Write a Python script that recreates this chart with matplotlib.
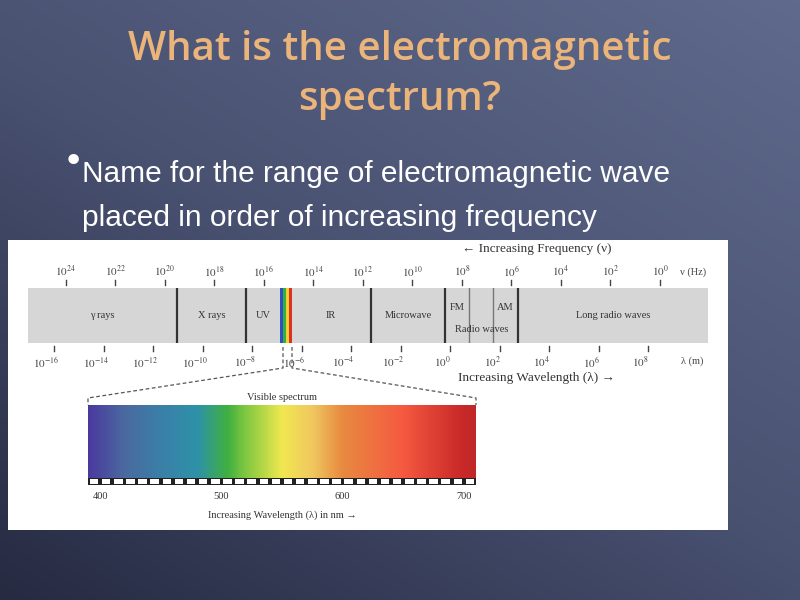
import numpy as np
import matplotlib
matplotlib.use("Agg")
import matplotlib.pyplot as plt
from matplotlib.colors import LinearSegmentedColormap
from matplotlib.patches import Rectangle

plt.rcParams["mathtext.fontset"] = "stix"

# band regions on log10(wavelength / m) scale (schematic, as drawn)
region_bounds = [-17.05, -11.03, -8.24, -6.87, -6.4, -3.2, -0.2, 0.77, 1.74, 2.75, 10.42]
region_names = ["γ rays", "X rays", "UV", "IR", "Microwave", "FM", "AM", "Long radio waves"]
region_spans = [(0, 1), (1, 2), (2, 3), (4, 5), (5, 6), (6, 7), (8, 9), (9, 10)]
wave_exps = list(range(-16, 9, 2))
freq_exps = list(range(24, -1, -2))
freq_offset = 8.48  # log10(c)
visible_stripes = ["#3050c0", "#30b040", "#f0d030", "#e03020"]

vis_nm = [390, 420, 450, 480, 505, 520, 550, 575, 600, 650, 700, 710]
vis_col = ["#4b3a9e", "#4a6aa0", "#3a80a8", "#2e92a8", "#40b040", "#80c840",
           "#f0e850", "#f0c860", "#e88a40", "#f55a40", "#c82828", "#c02828"]
vis_labels = [400, 500, 600, 700]

W, H = 800, 600
fig = plt.figure(figsize=(8, 6), dpi=100)
bg = fig.add_axes([0, 0, 1, 1])
bg.set_xlim(0, W)
bg.set_ylim(H, 0)
bg.axis("off")

# slide background gradient
yy, xx = np.mgrid[0:1:200j, 0:1:200j]
g = 0.55 * (1 - yy) + 0.45 * xx
bgcmap = LinearSegmentedColormap.from_list("bg", ["#262b42", "#4a5272", "#5f6a8c"])
bg.imshow(g, cmap=bgcmap, extent=[0, W, H, 0], aspect="auto", zorder=0)

bg.text(400, 50, "What is the electromagnetic", ha="center", va="center",
        fontsize=29, color="#eab47a", family="Open Sans", fontweight="semibold")
bg.text(400, 100, "spectrum?", ha="center", va="center",
        fontsize=29, color="#eab47a", family="Open Sans", fontweight="semibold")
bg.text(73, 162, "•", ha="center", va="center", fontsize=26, color="white")
bg.text(82, 174, "Name for the range of electromagnetic wave", ha="left", va="center",
        fontsize=21.5, color="white", family="Liberation Sans")
bg.text(82, 218, "placed in order of increasing frequency", ha="left", va="center",
        fontsize=21.5, color="white", family="Liberation Sans")

bg.add_patch(Rectangle((8, 240), 720, 290, facecolor="white", zorder=1))

serif = "Liberation Serif"
# band axes
ax = fig.add_axes([28 / W, 1 - 343 / H, 680 / W, 55 / H])
ax.set_xlim(region_bounds[0], region_bounds[-1])
ax.set_ylim(0, 1)
ax.set_facecolor("#d6d6d6")
for s in ax.spines.values():
    s.set_visible(False)
ax.set_xticks([])
ax.set_yticks([])
for i, b in enumerate(region_bounds[1:-1], start=1):
    if i in (3, 4):
        continue
    thin = i in (7, 8)
    ax.axvline(b, color="#777777" if thin else "#333333", lw=1.0 if thin else 1.6)
sw = (region_bounds[4] - region_bounds[3]) / len(visible_stripes)
for i, c in enumerate(visible_stripes):
    ax.axvspan(region_bounds[3] + i * sw, region_bounds[3] + (i + 1) * sw, color=c, lw=0)
for name, (a, b) in zip(region_names, region_spans):
    y = 0.65 if name in ("FM", "AM") else 0.5
    ax.text((region_bounds[a] + region_bounds[b]) / 2, y, name, ha="center", va="center",
            fontsize=7.5, family=serif, color="#333333")
ax.text((region_bounds[6] + region_bounds[9]) / 2, 0.25, "Radio waves", ha="center",
        va="center", fontsize=7.5, family=serif, color="#333333")
for e in wave_exps:
    ax.plot([e, e], [-0.15, -0.05], color="#444444", lw=1, clip_on=False)
    ax.text(e - 0.3, -0.22, f"$10^{{{e}}}$", ha="center", va="top", fontsize=8,
            color="#444444", clip_on=False)
for e in freq_exps:
    x = freq_offset - e
    ax.plot([x, x], [1.05, 1.15], color="#444444", lw=1, clip_on=False)
    ax.text(x, 1.17, f"$10^{{{e}}}$", ha="center", va="bottom", fontsize=8,
            color="#444444", clip_on=False)
ax.text(9.8, 1.2, "ν (Hz)", ha="center", va="bottom", fontsize=7.5, family=serif,
        color="#444444", clip_on=False)
ax.text(9.8, -0.25, "λ (m)", ha="center", va="top", fontsize=7.5, family=serif,
        color="#444444", clip_on=False)
ax.text(3.5, 1.6, "← Increasing Frequency (ν)", ha="center", va="bottom", fontsize=9.5,
        family=serif, color="#333333", clip_on=False)
ax.text(3.5, -0.52, "Increasing Wavelength (λ) →", ha="center", va="top", fontsize=9.5,
        family=serif, color="#333333", clip_on=False)

# zoom-in dashed lines
dash = dict(color="#555555", lw=0.9, ls=(0, (3, 2)), zorder=3)
bg.plot([283, 283, 88, 88], [347, 368, 398, 405], **dash)
bg.plot([292, 292, 476, 476], [347, 368, 398, 405], **dash)

# visible spectrum
vax = fig.add_axes([88 / W, 1 - 485 / H, 388 / W, 80 / H])
vcmap = LinearSegmentedColormap.from_list(
    "vis", [((n - vis_nm[0]) / (vis_nm[-1] - vis_nm[0]), c) for n, c in zip(vis_nm, vis_col)])
grad = np.linspace(vis_nm[0], vis_nm[-1], 500)[None, :]
vax.imshow(grad, cmap=vcmap, aspect="auto", extent=[vis_nm[0], vis_nm[-1], 0, 1])
vax.set_xlim(vis_nm[0], vis_nm[-1])
vax.set_ylim(-0.1, 1)
vax.axis("off")
vax.add_patch(Rectangle((vis_nm[0], -0.1), vis_nm[-1] - vis_nm[0], 0.1, facecolor="#222222"))
for n in range(vis_nm[0], vis_nm[-1], 10):
    vax.add_patch(Rectangle((n + 1.5, -0.08), 7, 0.06, facecolor="white", lw=0))
for n in vis_labels:
    vax.text(n, -0.2, str(n), ha="center", va="top", fontsize=7.5, family=serif,
             color="#333333", clip_on=False)
vax.text(550, 1.04, "Visible spectrum", ha="center", va="bottom", fontsize=7.5,
         family=serif, color="#333333", clip_on=False)
vax.text(550, -0.45, "Increasing Wavelength (λ) in nm →", ha="center", va="top",
         fontsize=7.5, family=serif, color="#333333", clip_on=False)

fig.savefig("out.png", dpi=100)
